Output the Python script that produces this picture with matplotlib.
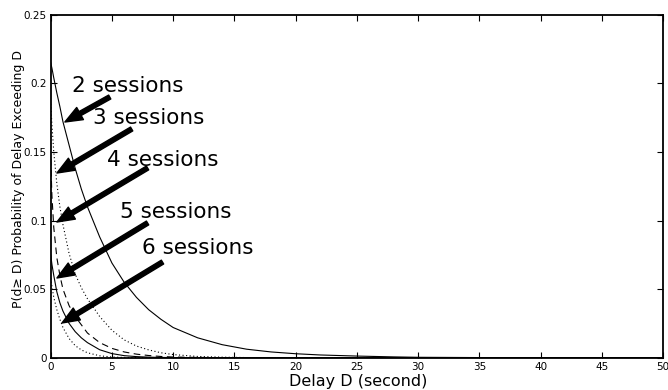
"""Tail probability of delay for several numbers of sessions."""

import matplotlib
matplotlib.use("Agg")
import matplotlib.pyplot as plt

# delay grid (seconds) shared by all curves
delay = [0, 0.1, 0.25, 0.5, 0.75, 1, 1.5, 2, 2.5, 3, 4, 5, 6, 7, 8, 9, 10,
         12, 14, 16, 18, 20, 22, 25, 28, 30, 35, 40, 45, 50]

# P(d >= D)
p_2 = [0.215, 0.211, 0.204, 0.193, 0.183, 0.172, 0.155, 0.138, 0.123, 0.110,
       0.088, 0.069, 0.055, 0.044, 0.035, 0.028, 0.022, 0.0145, 0.0095, 0.0062,
       0.0042, 0.0029, 0.0020, 0.0012, 0.0006, 0.0003, 0.0001, 0, 0, 0]
p_3 = [0.185, 0.170, 0.150, 0.127, 0.110, 0.097, 0.076, 0.061, 0.051, 0.043,
       0.030, 0.020, 0.013, 0.0085, 0.0057, 0.0036, 0.0023, 0.0009, 0.0004,
       0.0001, 0, 0, 0, 0, 0, 0, 0, 0, 0, 0]
p_4 = [0.145, 0.118, 0.095, 0.073, 0.060, 0.050, 0.038, 0.030, 0.024, 0.018,
       0.011, 0.0068, 0.0042, 0.0026, 0.0016, 0.0009, 0.0005, 0.0002, 0,
       0, 0, 0, 0, 0, 0, 0, 0, 0, 0, 0]
p_5 = [0.075, 0.068, 0.060, 0.048, 0.040, 0.034, 0.025, 0.019, 0.0145, 0.011,
       0.0058, 0.003, 0.0015, 0.0008, 0.0004, 0.0002, 0.0001, 0, 0,
       0, 0, 0, 0, 0, 0, 0, 0, 0, 0, 0]
p_6 = [0.058, 0.052, 0.044, 0.035, 0.028, 0.022, 0.014, 0.0088, 0.0057, 0.0036,
       0.0014, 0.0005, 0.0002, 0.0001, 0, 0, 0, 0, 0,
       0, 0, 0, 0, 0, 0, 0, 0, 0, 0, 0]

session_labels = ['2 sessions', '3 sessions', '4 sessions', '5 sessions', '6 sessions']
# label text (left, centre), arrow tail and arrow tip in data coordinates
label_pos = [(1.73, 0.198), (3.44, 0.1747), (4.58, 0.1441), (5.63, 0.1062), (7.42, 0.080)]
arrow_tail = [(4.82, 0.190), (6.61, 0.1667), (7.91, 0.1383), (7.91, 0.0982), (9.13, 0.0697)]
arrow_tip = [(1.16, 0.1718), (0.51, 0.1346), (0.51, 0.0989), (0.51, 0.0581), (0.92, 0.0253)]

x_ticks = [0, 5, 10, 15, 20, 25, 30, 35, 40, 45, 50]
y_ticks = [0, 0.05, 0.1, 0.15, 0.2, 0.25]
y_ticklabels = ['0', '0.05', '0.1', '0.15', '0.2', '0.25']

plt.rcParams['font.family'] = ['DejaVu Sans']

fig = plt.figure(figsize=(6.68, 3.90), dpi=100)
ax = fig.add_axes([0.0759, 0.0828, 0.9166, 0.8795])

dotted = (0, (1, 2.2))
ax.plot(delay, p_2, color='black', lw=0.8, ls='-')
ax.plot(delay, p_3, color='black', lw=0.8, ls=dotted)
ax.plot(delay, p_4, color='black', lw=0.8, ls=(0, (6, 4)))
ax.plot(delay, p_5, color='black', lw=0.8, ls='-')
ax.plot(delay, p_6, color='black', lw=0.8, ls=dotted)

for lab, pos, tail, tip in zip(session_labels, label_pos, arrow_tail, arrow_tip):
    ax.text(pos[0], pos[1], lab, ha='left', va='center', fontsize=15.5)
    ax.annotate('', xy=tip, xytext=tail,
                arrowprops=dict(arrowstyle='simple,head_length=1.25,head_width=1.0,tail_width=0.32',
                                fc='black', ec='black', shrinkA=0, shrinkB=0,
                                mutation_scale=10))

ax.set_xlim(0, 50)
ax.set_ylim(0, 0.25)
ax.set_xticks(x_ticks)
ax.set_yticks(y_ticks)
ax.set_yticklabels(y_ticklabels)
ax.tick_params(direction='in', top=True, right=True, length=4, width=0.8,
               labelsize=7.5, pad=3)
for sp in ax.spines.values():
    sp.set_linewidth(1.3)

ax.set_xlabel('Delay D (second)', fontsize=11.5)
ax.xaxis.set_label_coords(0.502, -0.068)
ax.xaxis.label.set_va('center')
ax.set_ylabel('P(d≥ D) Probability of Delay Exceeding D', fontsize=9)
ax.yaxis.set_label_coords(-0.052, 0.521)
ax.yaxis.label.set_va('center')

fig.savefig('out.png', dpi=100)
